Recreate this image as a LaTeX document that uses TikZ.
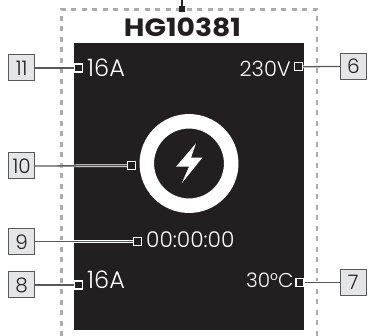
\documentclass[tikz,border=0pt]{standalone}
\usepackage{fontspec}
\setmainfont{Poppins Light}[BoldFont={Poppins Bold}]
\newfontfamily\titlefont{Poppins Bold}[FakeStretch=1.13]
\usepackage{xcolor}
\definecolor{screenblack}{HTML}{231F20}
\definecolor{framegray}{HTML}{ABABAE}
\definecolor{boxgray}{HTML}{E4E5E6}
\definecolor{linegray}{HTML}{58585A}
\tikzset{
  numbox/.style={draw=linegray, line width=1pt, fill=boxgray, minimum size=26pt,
    inner sep=0pt, font=\fontsize{20}{20}\selectfont, text=screenblack},
  pin/.style={draw=white, line width=1.1pt, fill=screenblack, minimum size=8pt, inner sep=0pt},
  readout/.style={text=white, inner sep=0pt, font=\fontsize{21}{21}\selectfont},
  leader/.style={draw=white, double=linegray, double distance=1.3pt, line width=0.7pt},
}
\begin{document}
\begin{tikzpicture}[x=1pt,y=-1pt]
  \useasboundingbox (0,0) rectangle (369,336);
  % Dashed outline of the unit
  \draw[framegray, line width=2.3pt, dash pattern=on 5pt off 5.5pt]
    (61.5,336) -- (61.5,9.5) -- (316.7,9.5) -- (316.7,336);
  \node[font=\fontsize{25}{25}\titlefont, text=screenblack, inner sep=0pt,
    anchor=base] (title) at (182.5,37) {HG10381};
  % Screen
  \fill[screenblack] (74,43) rectangle (304,330);
  % Ring and bolt
  \draw[white, line width=14.5pt] (189,163.5) circle (42.2pt);
  \fill[white] (196,143.3) -- (176,166.7) -- (189,166.7) -- (181.7,183.3)
    -- (202.3,157.7) -- (191,157.7) -- cycle;
  % Readouts
  \node[readout, anchor=base west, font=\fontsize{24}{24}\selectfont] (ampleft) at (87,77) {16A};
  \node[readout, anchor=base east] (volt) at (291,77) {230V};
  \node[readout, anchor=base west, font=\fontsize{21.7}{22}\selectfont] (timer) at (146,247.7) {00:00:00};
  \node[readout, anchor=base west, font=\fontsize{24}{24}\selectfont] (ampset) at (87,288) {16A};
  \node[readout, anchor=base east, font=\fontsize{20}{20}\selectfont] (temp) at (293.7,287.7) {30°C};
  % Numbered boxes
  \node[numbox] (box11) at (21.7,68) {11};
  \node[numbox] (box10) at (21.7,166) {10};
  \node[numbox] (box9) at (21.7,241.8) {9};
  \node[numbox] (box8) at (21.7,285) {8};
  \node[numbox] (box6) at (353.3,66.3) {6};
  \node[numbox] (box7) at (353.3,282.2) {7};
  % Pins
  \node[pin] (pin11) at (78.5,68) {};
  \node[pin] (pin10) at (131.5,165.7) {};
  \node[pin] (pin9) at (137.7,241.8) {};
  \node[pin] (pin8) at (78.5,285) {};
  \node[pin] (pin6) at (298.3,66.8) {};
  \node[pin] (pin7) at (300,282.2) {};
  \node[draw=none, fill=screenblack, minimum size=6pt, inner sep=0pt] (pintop) at (182,9) {};
  \coordinate (topend) at (182,0);
  % Leaders
  \draw[leader] (box11) -- (pin11);
  \draw[leader] (box10) -- (pin10);
  \draw[leader] (box9) -- (pin9);
  \draw[leader] (box8) -- (pin8);
  \draw[leader] (box6) -- (pin6);
  \draw[leader] (box7) -- (pin7);
  \draw[screenblack, line width=1.3pt] (pintop) -- (topend);
\end{tikzpicture}
\end{document}
